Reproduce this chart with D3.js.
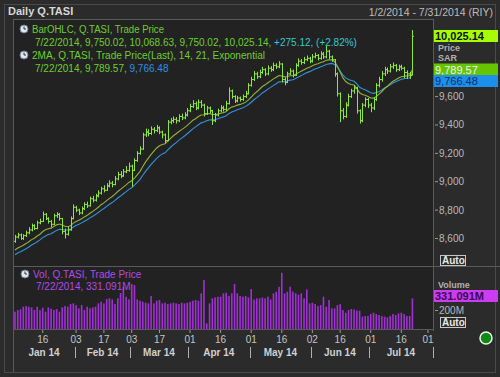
<!DOCTYPE html>
<html>
<head>
<meta charset="utf-8">
<script src="https://cdn.jsdelivr.net/npm/d3@7"></script>
<style>
body { margin: 0; background: #2b2b2b; }
svg { display: block; font-family: "Liberation Sans", Arial, sans-serif; }
</style>
</head>
<body>
<script>
// daily bars, 2 Jan 2014 .. 22 Jul 2014 (one entry per trading day)
const opens = [8580,8610,8625,8600,8620,8640,8660,8690,8670,8710,8720,8770,8740,8720,8700,8760,8770,8740,8650,8630,
  8660,8740,8820,8800,8780,8810,8840,8830,8880,8870,8900,8920,8950,8940,8970,8990,8980,9020,9050,9040,
  9070,9080,9110,9080,9150,9200,9230,9330,9350,9340,9370,9360,9380,9350,9330,9290,9420,9430,9440,9430,
  9460,9450,9470,9500,9530,9550,9520,9560,9540,9480,9520,9500,9430,9470,9500,9520,9510,9550,9640,9600,
  9570,9590,9580,9600,9620,9680,9720,9760,9740,9770,9790,9760,9800,9790,9820,9810,9830,9720,9700,9760,
  9780,9750,9820,9850,9840,9860,9870,9850,9880,9890,9870,9900,9880,9920,9880,9860,9760,9620,9500,9460,
  9540,9600,9640,9660,9500,9430,9540,9580,9540,9520,9580,9680,9720,9760,9790,9780,9810,9820,9790,9810,
  9800,9770,9760,9750.02];
const highs = [8625,8640,8635,8630,8655,8680,8705,8700,8725,8740,8790,8780,8750,8730,8775,8785,8780,8745,8670,8680,
  8755,8840,8830,8810,8825,8855,8860,8895,8900,8915,8940,8965,8975,8990,9010,9005,9040,9070,9075,9090,
  9110,9135,9120,9165,9215,9250,9345,9375,9370,9390,9385,9400,9390,9360,9340,9435,9450,9460,9455,9475,
  9480,9490,9520,9550,9575,9565,9580,9575,9550,9535,9530,9505,9485,9515,9540,9535,9570,9665,9650,9610,
  9605,9600,9615,9640,9695,9740,9780,9775,9790,9810,9800,9820,9815,9840,9835,9850,9835,9735,9775,9800,
  9790,9835,9870,9865,9880,9890,9880,9900,9910,9900,9920,9915,9960,9930,9890,9865,9770,9630,9520,9560,
  9620,9655,9680,9670,9510,9555,9595,9590,9555,9595,9695,9740,9780,9810,9805,9830,9840,9830,9825,9825,
  9810,9785,9775,10068.63];
const lows = [8570,8600,8590,8590,8610,8630,8650,8660,8665,8700,8715,8730,8705,8680,8695,8745,8725,8630,8600,8620,
  8655,8735,8785,8765,8770,8800,8815,8825,8855,8860,8890,8910,8925,8935,8960,8960,8975,9010,9025,9035,
  9060,9070,8965,9075,9140,9190,9225,9315,9320,9330,9340,9350,9335,9305,9270,9285,9405,9415,9410,9420,
  9435,9440,9460,9490,9520,9505,9510,9520,9460,9470,9480,9400,9420,9460,9490,9495,9500,9545,9585,9555,
  9560,9565,9570,9590,9615,9670,9710,9725,9730,9760,9745,9750,9775,9780,9795,9800,9700,9680,9695,9750,
  9735,9745,9810,9825,9830,9850,9835,9840,9870,9855,9860,9865,9870,9865,9845,9740,9600,9420,9440,9450,
  9530,9590,9620,9480,9410,9420,9525,9520,9490,9505,9570,9665,9705,9745,9760,9770,9795,9775,9780,9785,
  9730,9725,9725,9750.02];
const closes = [8610,8625,8600,8620,8640,8660,8690,8670,8710,8720,8770,8740,8720,8700,8760,8770,8740,8650,8630,8660,
  8740,8820,8800,8780,8810,8840,8830,8880,8870,8900,8920,8950,8940,8970,8990,8980,9020,9050,9040,9070,
  9080,9110,9080,9150,9200,9230,9330,9350,9340,9370,9360,9380,9350,9330,9290,9420,9430,9440,9430,9460,
  9450,9470,9500,9530,9550,9520,9560,9540,9480,9520,9500,9430,9470,9500,9520,9510,9550,9640,9600,9570,
  9590,9580,9600,9620,9680,9720,9760,9740,9770,9790,9760,9800,9790,9820,9810,9830,9720,9700,9760,9780,
  9750,9820,9850,9840,9860,9870,9850,9880,9890,9870,9900,9880,9920,9880,9860,9760,9620,9500,9460,9540,
  9600,9640,9660,9500,9430,9540,9580,9540,9520,9580,9680,9720,9760,9790,9780,9810,9820,9790,9810,9800,
  9770,9760,9750.02,10025.14];
// exponential moving averages 14 and 21 as plotted
const ma14 = [8519,8533,8542,8552,8564,8577,8592,8602,8617,8630,8649,8661,8669,8673,8685,8696,8702,8695,8686,8683,
  8690,8708,8720,8728,8739,8752,8763,8778,8791,8805,8820,8838,8851,8867,8883,8896,8913,8931,8946,8962,
  8978,8995,9007,9026,9049,9073,9107,9140,9166,9193,9216,9238,9253,9263,9267,9287,9306,9324,9338,9354,
  9367,9381,9397,9415,9433,9444,9460,9470,9472,9478,9481,9474,9474,9477,9483,9487,9495,9514,9526,9532,
  9540,9545,9552,9561,9577,9596,9618,9634,9652,9671,9683,9698,9711,9725,9736,9749,9745,9739,9742,9747,
  9747,9757,9769,9779,9790,9800,9807,9817,9826,9832,9841,9846,9856,9859,9859,9846,9816,9774,9732,9706,
  9692,9685,9682,9658,9627,9615,9610,9601,9590,9589,9601,9617,9636,9657,9673,9691,9708,9719,9731,9740,
  9744,9746,9747,9789.57];
const ma21 = [8485,8498,8507,8517,8528,8540,8554,8564,8577,8590,8606,8618,8628,8634,8646,8657,8665,8663,8660,8660,
  8667,8681,8692,8700,8710,8722,8732,8745,8757,8770,8783,8798,8811,8826,8841,8853,8869,8885,8899,8915,
  8930,8946,8958,8976,8996,9017,9046,9073,9098,9122,9144,9165,9182,9196,9204,9224,9243,9261,9276,9293,
  9307,9322,9338,9356,9373,9387,9402,9415,9421,9430,9436,9436,9439,9444,9451,9457,9465,9481,9492,9499,
  9507,9514,9522,9531,9544,9560,9578,9593,9609,9626,9638,9653,9665,9679,9691,9704,9705,9705,9710,9716,
  9719,9728,9739,9748,9759,9769,9776,9786,9795,9802,9811,9817,9827,9831,9834,9827,9808,9780,9751,9732,
  9720,9713,9708,9689,9666,9655,9648,9638,9627,9623,9628,9636,9647,9660,9671,9684,9696,9705,9714,9722,
  9726,9729,9731,9766.48];
// volume, millions
const volumes = [187,205,213,241,248,241,234,205,241,205,230,187,234,220,205,216,187,234,248,241,
  270,277,259,223,259,205,241,223,234,241,277,295,277,324,331,320,270,331,389,454,
  349,320,486,475,320,306,295,284,277,356,277,306,313,277,284,270,277,284,277,270,
  284,277,284,295,306,313,306,385,529,61,277,331,342,349,349,385,392,356,385,486,
  385,356,349,356,342,432,320,331,331,342,331,349,320,385,403,457,608,385,403,457,
  403,385,370,385,331,428,277,284,270,248,259,349,241,313,223,223,259,270,205,176,
  205,216,212,201,198,133,140,140,162,176,162,151,140,133,126,140,162,151,169,176,
  162,140,140,331.091];

const priceTicks = [8600, 8800, 9000, 9200, 9400, 9600];
const volTicks = [200];
// day ticks, as trading-day positions
const dayTickIdx = [10, 22, 32, 42, 52, 63, 74, 85, 96, 107, 117, 128, 139, 148.6];
const dayTickLabels = ['16', '03', '17', '03', '17', '01', '16', '01', '16', '02', '16', '01', '16', '01'];
const monthEdges = [-0.7, 21.6, 41.4, 62.2, 84.5, 106.5, 127.3, 150.4];
const monthLabels = ['Jan 14', 'Feb 14', 'Mar 14', 'Apr 14', 'May 14', 'Jun 14', 'Jul 14'];

const W = 500, H = 377;
const plotLeft = 13, plotRight = 433, plotTop = 19, priceBottom = 266, volBottom = 329;

const svg = d3.select('body').append('svg')
    .attr('width', W)
    .attr('height', H);

svg.append('rect').attr('width', W).attr('height', H).attr('fill', '#2b2b2b');
// outer frame
svg.append('rect')
    .attr('x', 4.5).attr('y', 4.5).attr('width', 491).attr('height', 368)
    .attr('fill', 'none').attr('stroke', '#4a4a4a');
// plot background
svg.append('rect')
    .attr('x', plotLeft).attr('y', plotTop).attr('width', plotRight - plotLeft).attr('height', volBottom - plotTop)
    .attr('fill', '#222222');

var x = d3.scaleLinear().domain([-0.7, 150.4]).range([plotLeft, plotRight]);
var y = d3.scaleLinear().domain([8406, 10147]).range([priceBottom, plotTop]);
var yv = d3.scaleLinear().domain([0, 681]).range([volBottom, priceBottom]);

// panel borders
let borders = svg.append('g').attr('stroke', '#5a5a5a').attr('shape-rendering', 'crispEdges');
borders.append('line').attr('x1', plotLeft + 0.5).attr('x2', plotLeft + 0.5).attr('y1', plotTop).attr('y2', 372);
borders.append('line').attr('x1', plotLeft).attr('x2', plotRight).attr('y1', plotTop + 0.5).attr('y2', plotTop + 0.5);
borders.append('line').attr('x1', plotRight + 0.5).attr('x2', plotRight + 0.5).attr('y1', plotTop).attr('y2', volBottom + 2);
borders.append('line').attr('x1', plotLeft).attr('x2', W).attr('y1', priceBottom + 0.5).attr('y2', priceBottom + 0.5);
borders.append('line').attr('x1', plotLeft).attr('x2', plotRight).attr('y1', volBottom + 0.5).attr('y2', volBottom + 0.5);

// volume bars
svg.append('g').selectAll('rect').data(volumes).join('rect')
    .attr('x', (d, i) => x(i) - 0.8)
    .attr('width', 1.6)
    .attr('y', d => yv(d))
    .attr('height', d => volBottom - yv(d))
    .attr('fill', '#a12fd6');

// moving averages
const line = d3.line().x((d, i) => x(i)).y(d => y(d));
svg.append('path').attr('d', line(ma21)).attr('fill', 'none').attr('stroke', '#2f93dc').attr('stroke-width', 1.1);
svg.append('path').attr('d', line(ma14)).attr('fill', 'none').attr('stroke', '#93b23a').attr('stroke-width', 1.1);

// OHLC bars
let bars = svg.append('g').attr('stroke', '#8fe63a').attr('stroke-width', 1).attr('fill', 'none');
for (let i = 0; i < closes.length; ++i) {
    let cx = Math.round(x(i)) + 0.5;
    bars.append('path')
        .attr('d', 'M' + cx + ',' + y(highs[i]) + 'V' + y(lows[i]) +
            'M' + (cx - 1.5) + ',' + y(opens[i]) + 'H' + cx +
            'M' + cx + ',' + y(closes[i]) + 'H' + (cx + 1.5));
}

// right price axis
let pa = svg.append('g').attr('font-size', '10px').attr('fill', '#b9b9b9');
priceTicks.forEach(function (t) {
    pa.append('line').attr('x1', plotRight + 2).attr('x2', plotRight + 5).attr('y1', y(t)).attr('y2', y(t)).attr('stroke', '#9a9a9a');
    pa.append('text').attr('x', plotRight + 6).attr('y', y(t) + 3.5).text(d3.format(',')(t));
});
volTicks.forEach(function (t) {
    pa.append('line').attr('x1', plotRight + 2).attr('x2', plotRight + 5).attr('y1', yv(t)).attr('y2', yv(t)).attr('stroke', '#9a9a9a');
    pa.append('text').attr('x', plotRight + 6).attr('y', yv(t) + 3.5).text(t + 'M');
});

// axis captions, partly covered by the value flags
let cap = svg.append('g').attr('font-size', '9px').attr('font-weight', 'bold').attr('fill', '#b0b0b0');
cap.append('text').attr('x', 438).attr('y', 50.5).text('Price');
cap.append('text').attr('x', 438).attr('y', 61).text('SAR');
cap.append('text').attr('x', 438).attr('y', 287.5).text('Volume');

function flag(yy, bg, fg, bold, txt) {
    svg.append('rect').attr('x', plotRight + 1).attr('y', yy - 6).attr('width', 64).attr('height', 12).attr('fill', bg);
    svg.append('text').attr('x', plotRight + 2).attr('y', yy + 4).attr('font-size', '11px')
        .attr('font-weight', bold ? 'bold' : 'normal').attr('fill', fg).text(txt);
}
let last = closes.length - 1;
flag(36, '#a6ff00', '#101010', true, d3.format(',.2f')(closes[last]));
flag(69.5, '#66c400', '#f0f0f0', false, d3.format(',.2f')(ma14[last]));
flag(81, '#1b8fea', '#0c2f66', false, d3.format(',.2f')(ma21[last]));
flag(296, '#cc3cf2', '#3a0a52', true, d3.format('.3f')(volumes[last]) + 'M');

function autoBtn(yy) {
    svg.append('rect').attr('x', 440.5).attr('y', yy + 0.5).attr('width', 25).attr('height', 10)
        .attr('fill', '#2b2b2b').attr('stroke', '#c8c8c8');
    svg.append('text').attr('x', 442).attr('y', yy + 9).attr('font-size', '10px').attr('font-weight', 'bold')
        .attr('fill', '#e8e8e8').text('Auto');
}
autoBtn(255);
autoBtn(317);

svg.append('circle').attr('cx', 486).attr('cy', 338).attr('r', 6)
    .attr('fill', '#0a8c12').attr('stroke', '#f2f2f2').attr('stroke-width', 1.5);

// bottom axis
let xa = svg.append('g');
dayTickIdx.forEach(function (t, k) {
    xa.append('line').attr('x1', x(t)).attr('x2', x(t)).attr('y1', volBottom + 1).attr('y2', volBottom + 4)
        .attr('stroke', '#9a9a9a');
    xa.append('text').attr('x', x(t)).attr('y', 343).attr('text-anchor', 'middle')
        .attr('font-size', '10px').attr('fill', '#c4c4c4').text(dayTickLabels[k]);
});
monthLabels.forEach(function (m, k) {
    let a = x(monthEdges[k]), b = x(monthEdges[k + 1]);
    xa.append('text').attr('x', (a + b) / 2).attr('y', 356).attr('text-anchor', 'middle')
        .attr('font-size', '10px').attr('font-weight', 'bold').attr('fill', '#d0d0d0').text(m);
    xa.append('line').attr('x1', Math.round(b) + 0.5).attr('x2', Math.round(b) + 0.5).attr('y1', 347).attr('y2', 358)
        .attr('stroke', '#b0b0b0');
});

// titles
svg.append('text').attr('x', 8).attr('y', 15).attr('font-size', '11px').attr('font-weight', 'bold')
    .attr('fill', '#d6d6d6').text('Daily Q.TASI');
svg.append('text').attr('x', 493).attr('y', 16).attr('text-anchor', 'end').attr('font-size', '10.5px')
    .attr('fill', '#bcbcbc').text('1/2/2014 - 7/31/2014 (RIY)');

function clock(cx, cy) {
    svg.append('circle').attr('cx', cx).attr('cy', cy).attr('r', 4).attr('fill', '#dfe6ee').attr('stroke', '#6d7f94');
    svg.append('path').attr('d', 'M' + cx + ',' + (cy - 2.5) + 'V' + cy + 'H' + (cx + 2))
        .attr('stroke', '#2a3440').attr('fill', 'none');
}
clock(24, 29);
clock(24, 55);
clock(25, 274);

// legends
let lg = svg.append('g').attr('font-size', '10px');
lg.append('text').attr('x', 32).attr('y', 33).attr('fill', '#6ccf2a')
    .attr('textLength', 132).attr('lengthAdjust', 'spacingAndGlyphs').text('BarOHLC, Q.TASI, Trade Price');
let l2 = lg.append('text').attr('x', 35).attr('y', 46).attr('fill', '#6ccf2a');
l2.append('tspan').text('7/22/2014, 9,750.02, 10,068.63, 9,750.02, 10,025.14, ');
l2.append('tspan').attr('fill', '#34c8d0').text('+275.12, (+2.82%)');
lg.append('text').attr('x', 32).attr('y', 59).attr('fill', '#6ccf2a')
    .attr('textLength', 233).attr('lengthAdjust', 'spacingAndGlyphs').text('2MA, Q.TASI, Trade Price(Last),  14, 21, Exponential');
let l4 = lg.append('text').attr('x', 35).attr('y', 72).attr('fill', '#6ccf2a');
l4.append('tspan').text('7/22/2014, 9,789.57, ');
l4.append('tspan').attr('fill', '#2f8fe0').text('9,766.48');
lg.append('text').attr('x', 33).attr('y', 278).attr('fill', '#b24ae6').text('Vol, Q.TASI, Trade Price');
lg.append('text').attr('x', 36).attr('y', 290).attr('fill', '#b24ae6').text('7/22/2014, 331.091M');
</script>
</body>
</html>
